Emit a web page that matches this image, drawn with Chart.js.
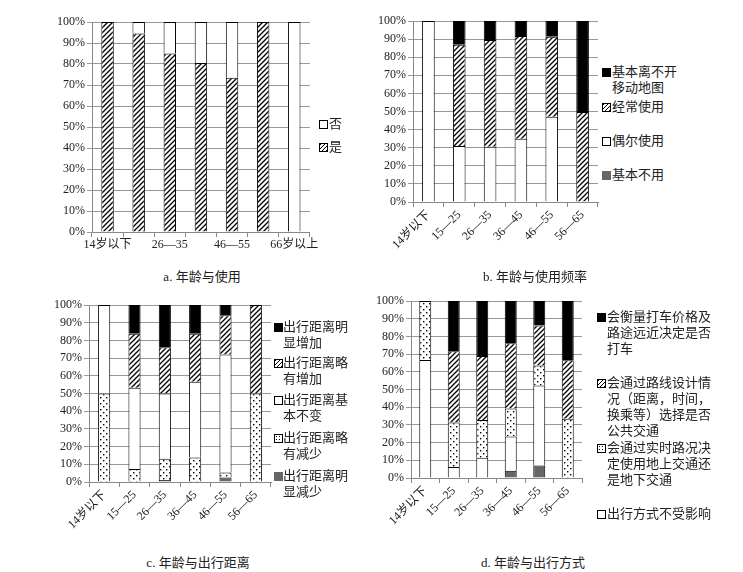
<!DOCTYPE html>
<html>
<head>
<meta charset="utf-8">
<script src="https://cdn.jsdelivr.net/npm/chart.js@4.4.0/dist/chart.umd.min.js"></script>
<style>
  body { margin: 0; background: #fff; width: 743px; height: 572px; position: relative; overflow: hidden;
         font-family: "Liberation Serif", "Noto Sans CJK SC", serif; color: #222; }
  canvas { position: absolute; }
  .cap { position: absolute; font-size: 13px; white-space: nowrap; transform: translate(-50%, -50%); }
  .lg { position: absolute; font-size: 13px; line-height: 16px; white-space: nowrap; }
  .sw { position: absolute; width: 7px; height: 7px; border: 1px solid #000; background: #fff; }
</style>
</head>
<body>
<canvas id="ca" width="280" height="250" style="left:40px;top:10px"></canvas>
<canvas id="cb" width="230" height="260" style="left:370px;top:10px"></canvas>
<canvas id="cc" width="230" height="235" style="left:45px;top:294px"></canvas>
<canvas id="cd" width="218" height="240" style="left:368px;top:290px"></canvas>

<div class="cap" style="left:202px;top:275px">a. 年龄与使用</div>
<div class="cap" style="left:535px;top:275px">b. 年龄与使用频率</div>
<div class="cap" style="left:198px;top:561px">c. 年龄与出行距离</div>
<div class="cap" style="left:533px;top:561px">d. 年龄与出行方式</div>

<div id="legends"></div>

<script>
// 年龄分组
const ageLabelsA = ['14岁以下', '15—25', '26—35', '36—45', '46—55', '56—65', '66岁以上'];
const ageLabels = ['14岁以下', '15—25', '26—35', '36—45', '46—55', '56—65'];

// a. 年龄与使用
const aYes = [100, 94.5, 85, 80.5, 73.5, 100, 0];
const aNo = [0, 5.5, 15, 19.5, 26.5, 0, 100];

// b. 年龄与使用频率
const bNever = [0, 0, 0, 0, 0, 0];
const bSometimes = [100, 31, 30.5, 34.9, 47.1, 0];
const bOften = [0, 55.9, 59, 56.8, 44.2, 49.7];
const bAlways = [0, 13.1, 10.5, 8.3, 8.7, 50.3];

// c. 年龄与出行距离
const cMuchLess = [0, 0, 1.1, 0, 2.6, 0];
const cLess = [50, 7.3, 12, 13.9, 2.8, 50];
const cSame = [50, 46, 36.9, 42.8, 66.6, 0];
const cMore = [0, 30.4, 26.2, 27, 22.2, 50];
const cMuchMore = [0, 16.3, 23.8, 16.3, 5.8, 0];

// d. 年龄与出行方式
const dOther = [0, 0, 0, 4.1, 7, 0];
const dNone = [66.7, 6.2, 11.5, 19.4, 45.2, 0];
const dRealtime = [33.3, 25.2, 21.3, 15.7, 11.3, 33.5];
const dRoute = [0, 40.2, 36.1, 36.9, 22.6, 33];
const dTaxi = [0, 28.4, 31.1, 23.9, 13.9, 33.5];

const yTicks = [0, 10, 20, 30, 40, 50, 60, 70, 80, 90, 100];

// 填充图案
function hatchPattern() {
    const c = document.createElement('canvas');
    c.width = 5; c.height = 5;
    const g = c.getContext('2d');
    g.fillStyle = '#fff'; g.fillRect(0, 0, 5, 5);
    g.strokeStyle = '#000'; g.lineWidth = 1.3;
    g.beginPath();
    g.moveTo(-1, 6); g.lineTo(6, -1);
    g.moveTo(-3.5, 3.5); g.lineTo(3.5, -3.5);
    g.moveTo(1.5, 8.5); g.lineTo(8.5, 1.5);
    g.stroke();
    return g.createPattern(c, 'repeat');
}
function dotPattern() {
    const c = document.createElement('canvas');
    c.width = 6; c.height = 6;
    const g = c.getContext('2d');
    g.fillStyle = '#fff'; g.fillRect(0, 0, 6, 6);
    g.fillStyle = '#000';
    g.fillRect(1, 1, 1.4, 1.4);
    g.fillRect(4, 4, 1.4, 1.4);
    return g.createPattern(c, 'repeat');
}
const HATCH = hatchPattern();
const DOTS = dotPattern();
const BLACK = '#000';
const WHITE = '#fff';
const GRAY = '#666';

const FONT = { family: '"Liberation Serif", "Noto Sans CJK SC", serif', size: 12 };

function ds(data, fill) {
    return { data: data, backgroundColor: fill, borderColor: '#000', borderWidth: 1, borderSkipped: 'start' };
}

function makeChart(id, labels, datasets, o) {
    new Chart(document.getElementById(id).getContext('2d'), {
        type: 'bar',
        data: { labels: labels, datasets: datasets },
        options: {
            responsive: false,
            animation: false,
            layout: { padding: { top: o.padTop, right: o.padRight, left: 0, bottom: 0 } },
            plugins: { legend: { display: false }, tooltip: { enabled: false } },
            datasets: { bar: { categoryPercentage: 1, barPercentage: o.barPct } },
            scales: {
                x: {
                    stacked: true,
                    grid: { drawOnChartArea: false, drawTicks: true, tickLength: 5, color: '#888', offset: true },
                    border: { color: '#888' },
                    ticks: {
                        font: FONT, color: '#222', autoSkip: false,
                        minRotation: o.rot, maxRotation: o.rot, padding: 1,
                        callback: o.xCb || function(v, i) { return labels[i]; }
                    },
                    afterFit: function(s) { s.height = o.xH; }
                },
                y: {
                    stacked: true, min: 0, max: 100,
                    grid: { color: '#999', tickLength: 5 },
                    border: { color: '#888' },
                    afterBuildTicks: function(s) { s.ticks = yTicks.map(v => ({ value: v })); },
                    ticks: { font: FONT, color: '#222', padding: 2, callback: v => v + '%' },
                    afterFit: function(s) { s.width = o.yW; }
                }
            }
        }
    });
}

makeChart('ca', ageLabelsA, [ds(aYes, HATCH), ds(aNo, WHITE)],
    { padTop: 12, padRight: 10, xH: 28, yW: 52, barPct: 0.4, rot: 0,
      xCb: function(v, i) { return i % 2 === 0 ? ageLabelsA[i] : ''; } });

makeChart('cb', ageLabels, [ds(bNever, GRAY), ds(bSometimes, WHITE), ds(bOften, HATCH), ds(bAlways, BLACK)],
    { padTop: 11, padRight: 2, xH: 68, yW: 43, barPct: 0.41, rot: 45 });

makeChart('cc', ageLabels, [ds(cMuchLess, GRAY), ds(cLess, DOTS), ds(cSame, WHITE), ds(cMore, HATCH), ds(cMuchMore, BLACK)],
    { padTop: 11, padRight: 4, xH: 47, yW: 44, barPct: 0.4, rot: 45 });

makeChart('cd', ageLabels, [ds(dOther, GRAY), ds(dNone, WHITE), ds(dRealtime, DOTS), ds(dRoute, HATCH), ds(dTaxi, BLACK)],
    { padTop: 11, padRight: 4, xH: 52, yW: 43, barPct: 0.42, rot: 45 });

// 图例（多行文字）
const swatchCss = {
    black: 'background:#000',
    white: 'background:#fff',
    gray: 'background:#666;border-color:#666',
    hatch: 'background:repeating-linear-gradient(-45deg,#000 0 1px,#fff 1px 3px)',
    dots: 'background:radial-gradient(#000 0.8px, #fff 1px) 0 0/3px 3px'
};
const legendItems = [
    // [swatchX, textX, firstLineCenterY, swatch, lines]
    [319, 329, 124, 'white', ['否']],
    [319, 329, 147, 'hatch', ['是']],
    [602, 612, 72, 'black', ['基本离不开', '移动地图']],
    [602, 612, 107, 'hatch', ['经常使用']],
    [602, 612, 141, 'white', ['偶尔使用']],
    [602, 612, 175, 'gray', ['基本不用']],
    [274, 283, 327, 'black', ['出行距离明', '显增加']],
    [274, 283, 363, 'hatch', ['出行距离略', '有增加']],
    [274, 283, 400, 'white', ['出行距离基', '本不变']],
    [274, 283, 438, 'dots', ['出行距离略', '有减少']],
    [274, 283, 476, 'gray', ['出行距离明', '显减少']],
    [597, 607, 317, 'black', ['会衡量打车价格及', '路途远近决定是否', '打车']],
    [597, 607, 383, 'hatch', ['会通过路线设计情', '况（距离，时间，', '换乘等）选择是否', '公共交通']],
    [597, 607, 448, 'dots', ['会通过实时路况决', '定使用地上交通还', '是地下交通']],
    [597, 607, 514, 'white', ['出行方式不受影响']]
];
const box = document.getElementById('legends');
legendItems.forEach(function(it) {
    const sw = document.createElement('div');
    sw.className = 'sw';
    sw.style.cssText = 'left:' + it[0] + 'px;top:' + (it[2] - 4) + 'px;' + swatchCss[it[3]];
    box.appendChild(sw);
    const t = document.createElement('div');
    t.className = 'lg';
    t.style.left = it[1] + 'px';
    t.style.top = (it[2] - 8) + 'px';
    t.innerHTML = it[4].join('<br>');
    box.appendChild(t);
});
</script>
</body>
</html>
